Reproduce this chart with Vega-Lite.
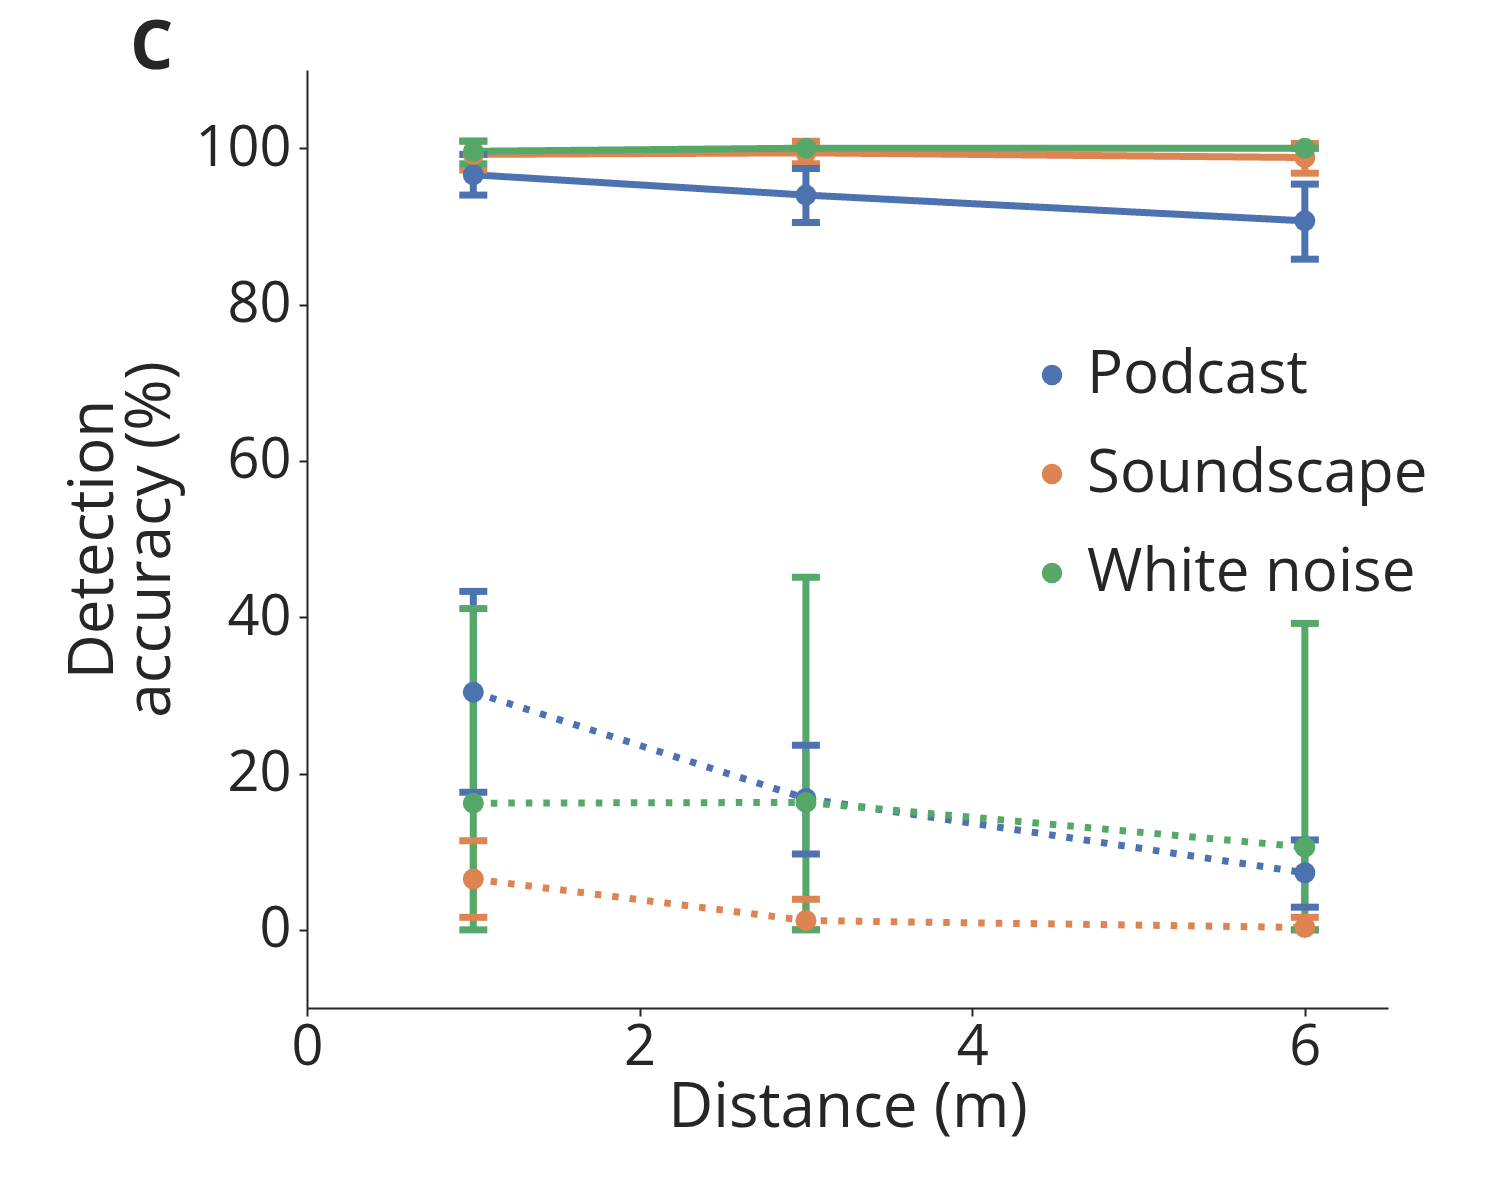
{
  "$schema": "https://vega.github.io/schema/vega-lite/v6.json",
  "width": 1081,
  "height": 938,
  "autosize": {"type": "none"},
  "padding": {"left": 307, "top": 70, "right": 112, "bottom": 192},
  "background": "white",
  "title": {"text": "C", "anchor": "start", "frame": "group", "fontSize": 68, "fontWeight": "bold", "font": "Open Sans", "color": "#262626", "dx": -177, "dy": 8, "baseline": "top", "offset": -5},
  "config": {
    "view": {"stroke": null},
    "font": "Open Sans",
    "axis": {"grid": false, "domainColor": "#262626", "domainWidth": 2, "tickColor": "#262626", "tickWidth": 2, "tickSize": 8, "labelColor": "#262626", "labelFontSize": 56, "labelFont": "Open Sans", "titleColor": "#262626", "titleFontSize": 62, "titleFont": "Open Sans", "titleFontWeight": "normal", "labelFlush": false, "labelOverlap": false}
  },
  "data": {"values": [
    {"distance": 1, "noise": "Podcast", "condition": "present", "mean": 96.6, "lo": 94.0, "hi": 99.2},
    {"distance": 3, "noise": "Podcast", "condition": "present", "mean": 94.0, "lo": 90.5, "hi": 97.4},
    {"distance": 6, "noise": "Podcast", "condition": "present", "mean": 90.7, "lo": 85.8, "hi": 95.4},
    {"distance": 1, "noise": "Soundscape", "condition": "present", "mean": 99.2, "lo": 97.2, "hi": 100.9},
    {"distance": 3, "noise": "Soundscape", "condition": "present", "mean": 99.4, "lo": 98.0, "hi": 100.9},
    {"distance": 6, "noise": "Soundscape", "condition": "present", "mean": 98.8, "lo": 96.8, "hi": 100.6},
    {"distance": 1, "noise": "White noise", "condition": "present", "mean": 99.6, "lo": 98.0, "hi": 100.9},
    {"distance": 3, "noise": "White noise", "condition": "present", "mean": 100.0, "lo": 100.0, "hi": 100.0},
    {"distance": 6, "noise": "White noise", "condition": "present", "mean": 100.0, "lo": 100.0, "hi": 100.0},
    {"distance": 1, "noise": "Podcast", "condition": "absent", "mean": 30.4, "lo": 17.6, "hi": 43.3},
    {"distance": 3, "noise": "Podcast", "condition": "absent", "mean": 16.8, "lo": 9.7, "hi": 23.6},
    {"distance": 6, "noise": "Podcast", "condition": "absent", "mean": 7.3, "lo": 2.9, "hi": 11.5},
    {"distance": 1, "noise": "Soundscape", "condition": "absent", "mean": 6.5, "lo": 1.6, "hi": 11.4},
    {"distance": 3, "noise": "Soundscape", "condition": "absent", "mean": 1.2, "lo": 0.0, "hi": 3.9},
    {"distance": 6, "noise": "Soundscape", "condition": "absent", "mean": 0.3, "lo": 0.0, "hi": 1.6},
    {"distance": 1, "noise": "White noise", "condition": "absent", "mean": 16.2, "lo": 0.0, "hi": 41.1},
    {"distance": 3, "noise": "White noise", "condition": "absent", "mean": 16.3, "lo": 0.0, "hi": 45.1},
    {"distance": 6, "noise": "White noise", "condition": "absent", "mean": 10.6, "lo": 0.0, "hi": 39.2}
  ]},
  "encoding": {
    "x": {"field": "distance", "type": "quantitative", "scale": {"domain": [0, 6.5], "nice": false, "zero": false}, "axis": {"values": [0, 2, 4, 6], "title": "Distance (m)", "labelPadding": 4, "titlePadding": 2}},
    "color": {"field": "noise", "type": "nominal", "scale": {"domain": ["Podcast", "Soundscape", "White noise"], "range": ["#4C72B0", "#DD8452", "#55A868"]}, "legend": {"title": null, "orient": "none", "legendX": 715, "legendY": 275, "symbolType": "circle", "symbolSize": 420, "symbolOpacity": 1, "symbolStrokeWidth": 0, "symbolFillColor": null, "labelFontSize": 60, "labelFont": "Open Sans", "labelColor": "#262626", "labelOffset": 5, "rowPadding": 39, "labelLimit": 700}}
  },
  "layer": [
    {
      "mark": {"type": "line", "strokeWidth": 7, "strokeCap": "butt"},
      "encoding": {
        "y": {"field": "mean", "type": "quantitative", "scale": {"domain": [-10, 110], "nice": false, "zero": false}, "axis": {"values": [0, 20, 40, 60, 80, 100], "title": ["Detection", "accuracy (%)"], "labelPadding": 8, "titlePadding": 12, "titleLineHeight": 57}},
        "strokeDash": {"field": "condition", "type": "nominal", "scale": {"domain": ["present", "absent"], "range": [[1, 0], [6.5, 11]]}, "legend": null},
        "detail": {"field": "condition"}
      }
    },
    {
      "mark": {"type": "rule", "strokeWidth": 7},
      "encoding": {
        "y": {"field": "lo", "type": "quantitative"},
        "y2": {"field": "hi"}
      }
    },
    {
      "mark": {"type": "tick", "orient": "horizontal", "size": 28, "thickness": 7, "opacity": 1},
      "encoding": {"y": {"field": "lo", "type": "quantitative"}}
    },
    {
      "mark": {"type": "tick", "orient": "horizontal", "size": 28, "thickness": 7, "opacity": 1},
      "encoding": {"y": {"field": "hi", "type": "quantitative"}}
    },
    {
      "mark": {"type": "point", "filled": true, "shape": "circle", "size": 440, "opacity": 1},
      "encoding": {
        "y": {"field": "mean", "type": "quantitative"}
      }
    }
  ]
}
